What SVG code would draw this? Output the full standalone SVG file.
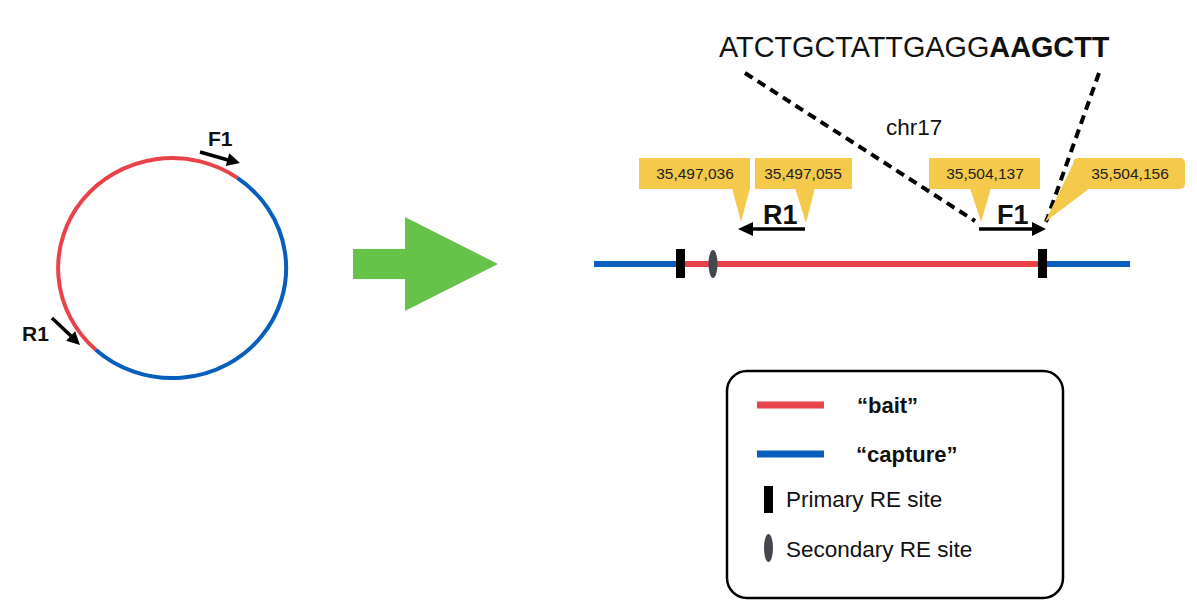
<svg xmlns="http://www.w3.org/2000/svg" width="1197" height="613" viewBox="0 0 1197 613">
<style>
.t{font-family:"Liberation Sans",Arial,sans-serif;fill:#111}
.b{font-weight:bold}
.red{stroke:#E8434A;fill:none}
.blue{stroke:#075EBC;fill:none}
.call{fill:#F4C94C}
.ct{font-family:"Liberation Sans",Arial,sans-serif;font-size:15.5px;fill:#222;text-anchor:middle}
.dash{stroke:#000;stroke-width:4;stroke-dasharray:9 6;fill:none}
.pr{stroke:#000;stroke-width:3.5;fill:none}
</style>
<rect width="1197" height="613" fill="#fff"/>
<g id="plasmid">
<path class="red" stroke-width="4" d="M237.4,177.9 A114,110 0 0 0 95.7,349.7"/>
<path class="blue" stroke-width="4" d="M237.4,177.9 A114,110 0 1 1 95.7,349.7"/>
</g>
<g id="plasmid-primers">
<line class="pr" x1="200" y1="152" x2="228" y2="160"/>
<polygon points="240,163 225.8,165.9 229.2,153.3" fill="#000"/>
<text class="t b" x="208" y="146" font-size="21">F1</text>
<line class="pr" x1="52" y1="318" x2="71" y2="336"/>
<polygon points="80,345 66.1,340.7 75.1,331.3" fill="#000"/>
<text class="t b" x="22" y="341" font-size="21">R1</text>
</g>
<g id="big-arrow">
<polygon points="353,249 405,249 405,217 498,264 405,311 405,279 353,279" fill="#66C34A"/>
</g>
<g id="sequence">
<text class="t" x="719" y="57" font-size="28.8">ATCTGCTATTGAGG<tspan class="b">AAGCTT</tspan></text>
<text class="t" x="886" y="135" font-size="22.5">chr17</text>
</g>
<g id="connectors">
<line class="dash" x1="745" y1="73" x2="975" y2="221"/>
<line class="dash" x1="1099" y1="73" x2="1046" y2="222"/>
</g>
<g id="chromosome">
<line class="blue" stroke-width="6" x1="594" y1="264" x2="680" y2="264"/>
<line class="red" stroke-width="6" x1="680" y1="264" x2="1042" y2="264"/>
<line class="blue" stroke-width="6" x1="1042" y1="264" x2="1130" y2="264"/>
<rect x="676" y="249" width="9" height="29" fill="#000"/>
<ellipse cx="713" cy="264" rx="4.5" ry="14" fill="#45474F"/>
<rect x="1038" y="249" width="9" height="29" fill="#000"/>
</g>
<g id="callout-1">
<rect class="call" x="639" y="158" width="111" height="31"/>
<polygon class="call" points="732,188 750,188 741,222"/>
<text class="ct" x="695" y="179">35,497,036</text>
</g>
<g id="callout-2">
<rect class="call" x="755" y="158" width="97" height="31"/>
<polygon class="call" points="795,188 815,188 806,223"/>
<text class="ct" x="803" y="179">35,497,055</text>
</g>
<g id="callout-3">
<rect class="call" x="929" y="158" width="111" height="31"/>
<polygon class="call" points="970,188 991,188 981,222"/>
<text class="ct" x="985" y="179">35,504,137</text>
</g>
<g id="callout-4">
<rect class="call" x="1073" y="158" width="112" height="31" rx="5"/>
<polygon class="call" points="1074,162 1045,222 1090,188 1080,188"/>
<text class="ct" x="1130" y="179">35,504,156</text>
</g>
<g id="primer-R1">
<line class="pr" x1="805" y1="229" x2="752" y2="229"/>
<polygon points="738,229 753,222 753,236" fill="#000"/>
<text class="t b" x="763" y="224" font-size="27">R1</text>
</g>
<g id="primer-F1">
<line class="pr" x1="979" y1="229" x2="1033" y2="229"/>
<polygon points="1046,229 1032,222 1032,236" fill="#000"/>
<text class="t b" x="997" y="224" font-size="27">F1</text>
</g>
<g id="legend">
<rect x="727" y="371" width="336" height="227" rx="20" fill="none" stroke="#000" stroke-width="2.5"/>
<line class="red" stroke-width="7" x1="757" y1="405" x2="824" y2="405"/>
<text class="t b" x="857" y="413" font-size="22">“bait”</text>
<line class="blue" stroke-width="7" x1="757" y1="454" x2="824" y2="454"/>
<text class="t b" x="856" y="462" font-size="22">“capture”</text>
<rect x="764" y="486" width="9" height="27" fill="#000"/>
<text class="t" x="786" y="507" font-size="22.5">Primary RE site</text>
<ellipse cx="768.5" cy="548" rx="4.5" ry="14" fill="#45474F"/>
<text class="t" x="786" y="557" font-size="22.5">Secondary RE site</text>
</g>
</svg>
